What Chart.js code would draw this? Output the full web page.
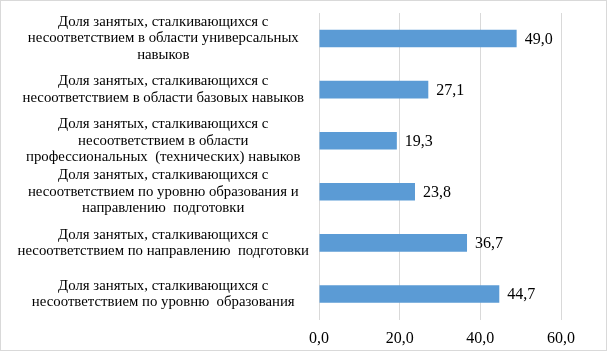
<!DOCTYPE html>
<html>
<head>
<meta charset="utf-8">
<script src="https://cdn.jsdelivr.net/npm/chart.js@4/dist/chart.umd.min.js"></script>
<style>
html,body{margin:0;padding:0;background:#fff;}
#wrap{position:relative;width:608px;height:352px;}
</style>
</head>
<body>
<div id="wrap"><canvas id="c" width="608" height="352"></canvas></div>
<script>
const categories = [
  ["Доля занятых, сталкивающихся с", "несоответствием в области универсальных", "навыков"],
  ["Доля занятых, сталкивающихся с", "несоответствием в области базовых навыков"],
  ["Доля занятых, сталкивающихся с", "несоответствием в области", "профессиональных  (технических) навыков"],
  ["Доля занятых, сталкивающихся с", "несоответствием по уровню образования и", "направлению  подготовки"],
  ["Доля занятых, сталкивающихся с", "несоответствием по направлению  подготовки"],
  ["Доля занятых, сталкивающихся с", "несоответствием по уровню  образования"]
];
const values = [49.0, 27.1, 19.3, 23.8, 36.7, 44.7];
const xTicks = [0, 20, 40, 60];

const fmt = v => v.toFixed(1).replace('.', ',');
const FONT = "'Liberation Serif', 'Times New Roman', serif";

const borderPlugin = {
  id: 'outerBorder',
  beforeDraw(chart) {
    const ctx = chart.ctx;
    ctx.save();
    ctx.fillStyle = '#fff';
    ctx.fillRect(0, 0, chart.width, chart.height);
    ctx.strokeStyle = '#d9d9d9';
    ctx.lineWidth = 1;
    ctx.strokeRect(0.5, 0.5, 606, 350);
    ctx.restore();
  }
};

const valueLabels = {
  id: 'valueLabels',
  afterDatasetsDraw(chart) {
    const ctx = chart.ctx;
    const meta = chart.getDatasetMeta(0);
    ctx.save();
    ctx.font = "16px " + FONT;
    ctx.fillStyle = '#000';
    ctx.textAlign = 'left';
    ctx.textBaseline = 'middle';
    meta.data.forEach((bar, i) => {
      ctx.fillText(fmt(values[i]), bar.x + 8, bar.y + 1);
    });
    ctx.restore();
  }
};

new Chart(document.getElementById('c'), {
  type: 'bar',
  data: {
    labels: categories,
    datasets: [{
      data: values,
      backgroundColor: '#5b9bd5',
      borderWidth: 0,
      categoryPercentage: 1,
      barPercentage: 0.345
    }]
  },
  options: {
    indexAxis: 'y',
    responsive: false,
    animation: false,
    devicePixelRatio: 1,
    layout: { padding: { top: 13, right: 47, bottom: 0, left: 0 } },
    plugins: { legend: { display: false }, tooltip: { enabled: false } },
    scales: {
      x: {
        min: 0, max: 60,
        afterBuildTicks(scale) { scale.ticks = xTicks.map(v => ({ value: v })); },
        afterFit(scale) { scale.height = 32.5; },
        grid: { color: '#d9d9d9', drawTicks: false, lineWidth: 1 },
        border: { display: false },
        ticks: {
          padding: 10,
          color: '#000',
          font: { family: FONT, size: 16 },
          callback: v => fmt(v)
        }
      },
      y: {
        afterFit(scale) {
          scale.width = 319;
          scale.paddingTop = 0;
          scale.paddingBottom = 0;
        },
        grid: { display: false, drawTicks: false },
        border: { display: false },
        ticks: {
          crossAlign: 'center',
          padding: 10,
          color: '#000',
          autoSkip: false,
          font: { family: FONT, size: 14.8, lineHeight: 1.115 }
        }
      }
    }
  },
  plugins: [borderPlugin, valueLabels]
});
</script>
</body>
</html>
